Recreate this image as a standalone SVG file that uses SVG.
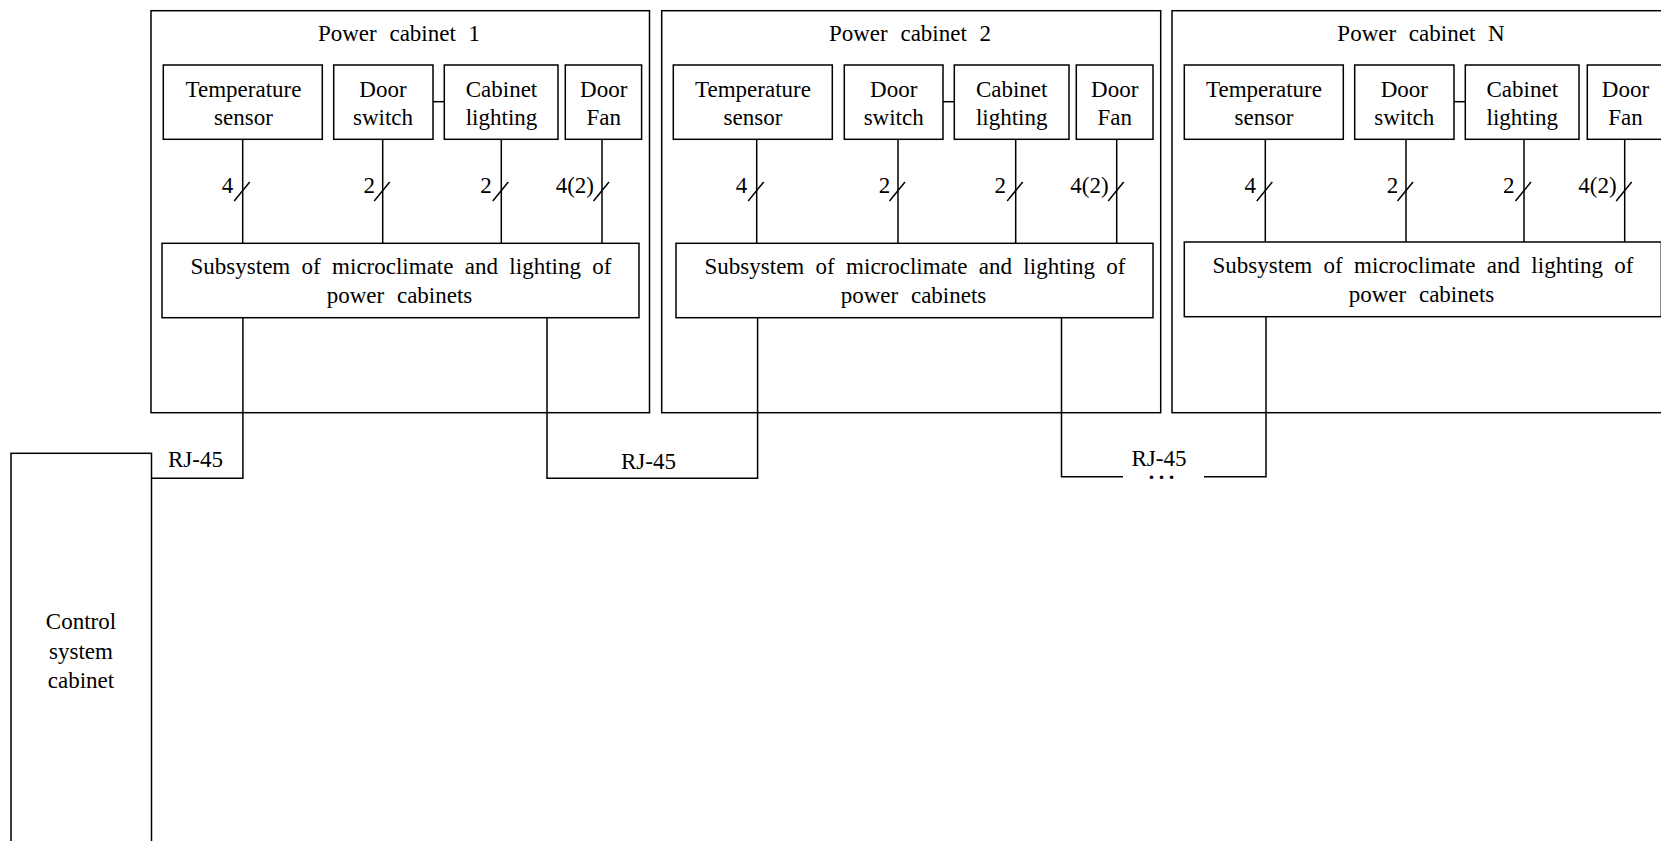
<svg xmlns="http://www.w3.org/2000/svg" width="1661" height="841" viewBox="0 0 1661 841">
<style>
.b{fill:none;stroke:#000;stroke-width:1.5}
.l{fill:none;stroke:#000;stroke-width:1.5}
text{font-family:"Liberation Serif","Times New Roman",serif;font-size:23px;fill:#000}
.m{text-anchor:middle}
.e{text-anchor:end}
.t{word-spacing:7px}
.s1{word-spacing:5.6px}
.dots{font-size:30px}
</style>
<rect x="0" y="0" width="1661" height="841" fill="#fff"/>

<g id="cabinet1">
<rect class="b" x="151" y="10.7" width="498.5" height="402"/>
<text class="m t" x="399" y="40.7">Power cabinet 1</text>
</g>
<g id="c1-temp"><rect class="b" x="163.3" y="65" width="159" height="74.3"/><text class="m" x="243.5" y="96.7">Temperature</text><text class="m" x="243.5" y="125">sensor</text></g>
<g id="c1-door"><rect class="b" x="333.7" y="65" width="99.3" height="74.3"/><text class="m" x="383" y="96.7">Door</text><text class="m" x="383" y="125">switch</text></g>
<g id="c1-light"><rect class="b" x="444.3" y="65" width="113.7" height="74.3"/><text class="m" x="501.5" y="96.7">Cabinet</text><text class="m" x="501.5" y="125">lighting</text></g>
<g id="c1-fan"><rect class="b" x="565.3" y="65" width="76.3" height="74.3"/><text class="m" x="603.7" y="96.7">Door</text><text class="m" x="603.7" y="125">Fan</text></g>
<g id="c1-sub"><rect class="b" x="162" y="243.3" width="477" height="74.4"/><text class="m s1" x="401" y="274">Subsystem of microclimate and lighting of</text><text class="m t" x="399.5" y="303.3">power cabinets</text></g>

<g id="cabinet2">
<rect class="b" x="661.7" y="10.7" width="499" height="402"/>
<text class="m t" x="910" y="40.7">Power cabinet 2</text>
</g>
<g id="c2-temp"><rect class="b" x="673.3" y="65" width="159" height="74.3"/><text class="m" x="753" y="96.7">Temperature</text><text class="m" x="753" y="125">sensor</text></g>
<g id="c2-door"><rect class="b" x="844.3" y="65" width="98.7" height="74.3"/><text class="m" x="893.7" y="96.7">Door</text><text class="m" x="893.7" y="125">switch</text></g>
<g id="c2-light"><rect class="b" x="954.3" y="65" width="114.7" height="74.3"/><text class="m" x="1011.7" y="96.7">Cabinet</text><text class="m" x="1011.7" y="125">lighting</text></g>
<g id="c2-fan"><rect class="b" x="1076.3" y="65" width="76.7" height="74.3"/><text class="m" x="1114.7" y="96.7">Door</text><text class="m" x="1114.7" y="125">Fan</text></g>
<g id="c2-sub"><rect class="b" x="676" y="243.3" width="477" height="74.4"/><text class="m s1" x="915" y="274">Subsystem of microclimate and lighting of</text><text class="m t" x="913.5" y="303.3">power cabinets</text></g>

<g id="cabinetN">
<rect class="b" x="1172" y="10.7" width="499" height="402"/>
<text class="m t" x="1421" y="40.7">Power cabinet N</text>
</g>
<g id="cN-temp"><rect class="b" x="1184.3" y="65" width="159" height="74.3"/><text class="m" x="1264" y="96.7">Temperature</text><text class="m" x="1264" y="125">sensor</text></g>
<g id="cN-door"><rect class="b" x="1354.7" y="65" width="99.3" height="74.3"/><text class="m" x="1404.3" y="96.7">Door</text><text class="m" x="1404.3" y="125">switch</text></g>
<g id="cN-light"><rect class="b" x="1465.3" y="65" width="113.7" height="74.3"/><text class="m" x="1522.3" y="96.7">Cabinet</text><text class="m" x="1522.3" y="125">lighting</text></g>
<g id="cN-fan"><rect class="b" x="1587.3" y="65" width="76.7" height="74.3"/><text class="m" x="1625.5" y="96.7">Door</text><text class="m" x="1625.5" y="125">Fan</text></g>
<g id="cN-sub"><rect class="b" x="1184.3" y="242" width="477" height="74.7"/><text class="m s1" x="1423" y="273">Subsystem of microclimate and lighting of</text><text class="m t" x="1421.5" y="302.3">power cabinets</text></g>

<g id="control-cabinet">
<rect class="b" x="11" y="453.3" width="140.5" height="420"/>
<text class="m" x="81" y="629">Control</text>
<text class="m" x="81" y="658.5">system</text>
<text class="m" x="81" y="688">cabinet</text>
</g>

<g id="connectors">
<path class="l" d="M433 101.7H444.3"/>
<path class="l" d="M242.7 139.3V243.3M382.7 139.3V243.3M501.3 139.3V243.3M602 139.3V243.3"/>
<path class="l" d="M234.2 201L249.7 182M374.2 201L389.7 182M492.8 201L508.3 182M593.5 201L609 182"/>
<text class="e" x="233.3" y="192.7">4</text>
<text class="e" x="375" y="192.7">2</text>
<text class="e" x="491.7" y="192.7">2</text>
<text class="e" x="594" y="192.7">4(2)</text>
<path class="l" d="M943 101.7H954.3"/>
<path class="l" d="M756.7 139.3V243.3M898 139.3V243.3M1015.7 139.3V243.3M1116.7 139.3V243.3"/>
<path class="l" d="M748.2 201L763.7 182M889.5 201L905 182M1007.2 201L1022.7 182M1108.2 201L1123.7 182"/>
<text class="e" x="747.3" y="192.7">4</text>
<text class="e" x="890.3" y="192.7">2</text>
<text class="e" x="1006.1" y="192.7">2</text>
<text class="e" x="1108.7" y="192.7">4(2)</text>
<path class="l" d="M1454 101.7H1465.3"/>
<path class="l" d="M1265.3 139.3V242M1406 139.3V242M1524 139.3V242M1624.7 139.3V242"/>
<path class="l" d="M1256.8 201L1272.3 182M1397.5 201L1413 182M1515.5 201L1531 182M1616.2 201L1631.7 182"/>
<text class="e" x="1256" y="192.7">4</text>
<text class="e" x="1398.3" y="192.7">2</text>
<text class="e" x="1514.4" y="192.7">2</text>
<text class="e" x="1616.7" y="192.7">4(2)</text>
<path class="l" d="M242.9 317.7V478.3H151.5"/>
<text x="168" y="466.7">RJ-45</text>
<path class="l" d="M547 317.7V478.3H757.6V317.7"/>
<text x="621" y="469.3">RJ-45</text>
<path class="l" d="M1061.5 317.7V476.7H1123M1204 476.7H1266V316.7"/>
<text x="1131.5" y="465.7">RJ-45</text>
<text class="m dots" x="1161.5" y="479">…</text>
</g>
</svg>
